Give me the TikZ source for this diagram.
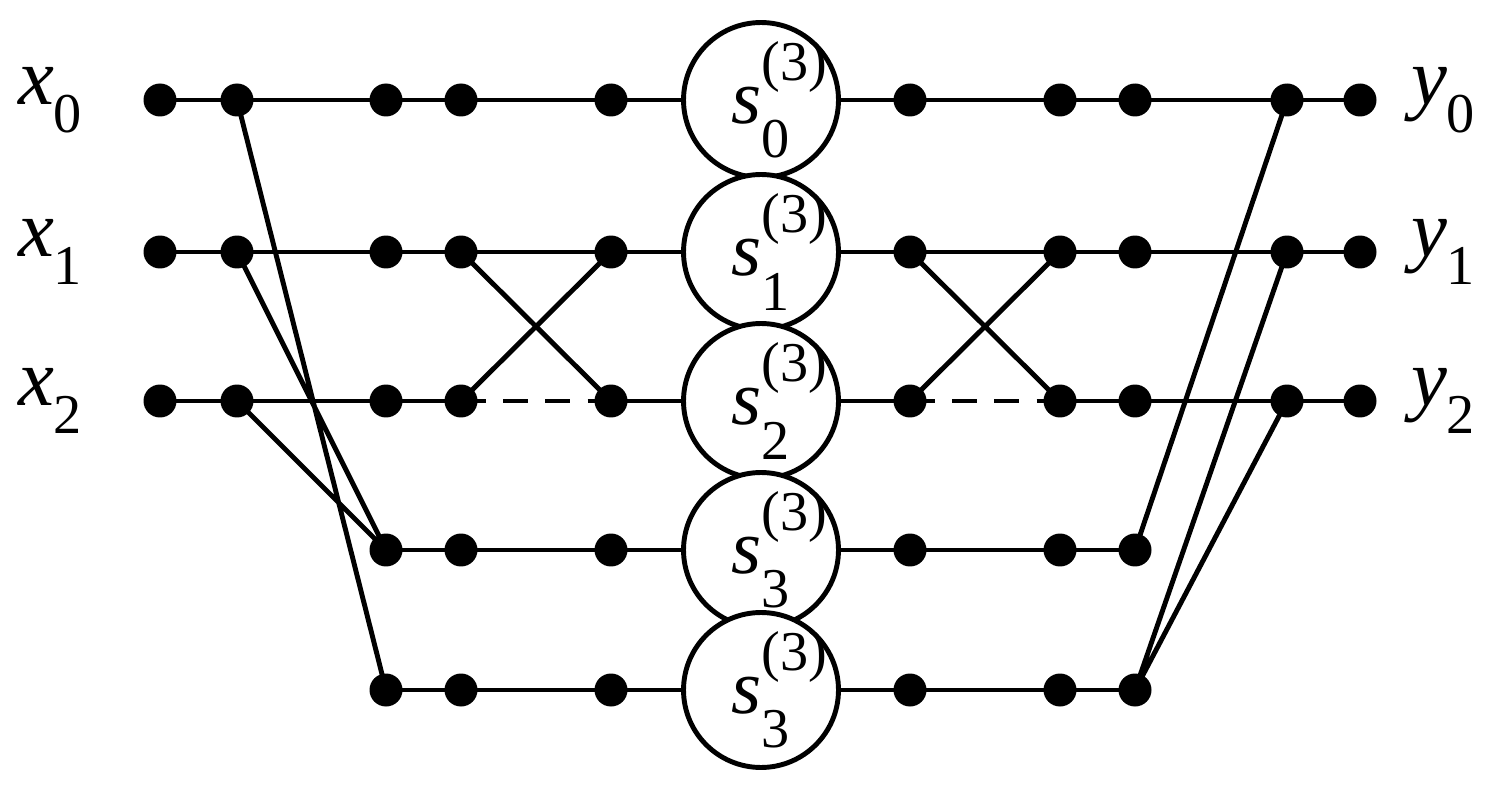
\documentclass[tikz,border=0pt]{standalone}
\usepackage{fontspec}
\setmainfont{Liberation Serif}
\begin{document}
\begin{tikzpicture}[x=0.02cm,y=-0.02cm,line width=2.8pt,
  dot/.style={circle,fill=black,inner sep=0pt,minimum width=0.66cm,minimum height=0.6cm},
  big/.style={circle,draw,line width=2.8pt,minimum size=3.1cm,inner sep=0pt,fill=white,font=\fontsize{44}{50}\selectfont},
  lab/.style={font=\fontsize{46}{52}\selectfont}]
\useasboundingbox (0,0) rectangle (1507,800);
\newcommand\mysub[2]{\textit{#1}\raisebox{-0.35em}{\fontsize{32}{36}\selectfont #2}}
\newcommand\mys[1]{\textit{s}\rlap{\raisebox{0.55em}{\fontsize{32}{36}\selectfont(3)}}\raisebox{-0.45em}{\fontsize{32}{36}\selectfont #1}\hspace{1.25em}}
\foreach \r/\yy in {0/100,1/252,2/401,3/550,4/690}{
  \foreach \c/\xx in {a/160,b/237,c/386,d/461,e/611,f/910,g/1060,h/1135,i/1287,j/1360}{
    \coordinate (\c\r) at (\xx,\yy);}
}
\node[big] (s0) at (761,100) {\mys{0}};
\node[big] (s1) at (761,252) {\mys{1}};
\node[big] (s2) at (761,401) {\mys{2}};
\node[big] (s3) at (761,550) {\mys{3}};
\node[big] (s4) at (761,690) {\mys{3}};
% horizontals
\foreach \r in {0,1}{\draw (a\r) -- (s\r) (s\r) -- (j\r);}
\draw (a2) -- (d2) (e2) -- (s2) (s2) -- (f2) (g2) -- (j2);
\draw[dash pattern=on 14pt off 10pt] (d2) -- (e2) (f2) -- (g2);
\foreach \r in {3,4}{\draw (c\r) -- (s\r) (s\r) -- (h\r);}
% diagonals
\draw (b0) -- (c4) (b1) -- (c3) (b2) -- (c3);
\draw (d1) -- (e2) (d2) -- (e1) (f1) -- (g2) (f2) -- (g1);
\draw (h3) -- (i0) (h4) -- (i1) (h4) -- (i2);
% dots
\foreach \r in {0,1,2}{\foreach \c in {a,b,c,d,e,f,g,h,i,j}{\node[dot] at (\c\r) {};}}
\foreach \r in {3,4}{\foreach \c in {c,d,e,f,g,h}{\node[dot] at (\c\r) {};}}
\node[lab] (x0) at (50,100) {\mysub{x}{0}};
\node[lab] (x1) at (50,252) {\mysub{x}{1}};
\node[lab] (x2) at (50,401) {\mysub{x}{2}};
\node[lab] (y0) at (1443,100) {\mysub{y}{0}};
\node[lab] (y1) at (1443,252) {\mysub{y}{1}};
\node[lab] (y2) at (1443,401) {\mysub{y}{2}};
\end{tikzpicture}
\end{document}
